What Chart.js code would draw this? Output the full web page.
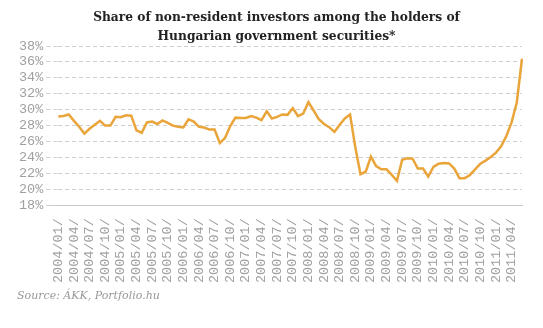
<!DOCTYPE html>
<html>
<head>
<meta charset="utf-8">
<script src="https://cdn.jsdelivr.net/npm/chart.js@4.4.0/dist/chart.umd.min.js"></script>
<style>
    body { margin: 0; background: #fff; }
    #wrap { position: relative; width: 543px; height: 328px; }
    #titulo {
        position: absolute; top: 7px; left: 10px; width: 533px;
        text-align: center; color: #222;
        font: bold 13.6px/19px "DejaVu Serif Condensed", "DejaVu Serif", serif;
    }
    #fuente {
        position: absolute; left: 17px; top: 289px; color: #999;
        font: italic 11px "DejaVu Serif", serif;
    }
</style>
</head>
<body>
<div id="wrap">
    <canvas id="shareChart"></canvas>
    <div id="titulo">Share of non-resident investors among the holders of<br>Hungarian government securities*</div>
    <div id="fuente">Source: ÁKK, Portfolio.hu</div>
</div>
<script>
// Datos mensuales (2004/01 - 2011/06)
const months = [
    '2004/01','2004/02','2004/03','2004/04','2004/05','2004/06','2004/07','2004/08','2004/09','2004/10','2004/11','2004/12',
    '2005/01','2005/02','2005/03','2005/04','2005/05','2005/06','2005/07','2005/08','2005/09','2005/10','2005/11','2005/12',
    '2006/01','2006/02','2006/03','2006/04','2006/05','2006/06','2006/07','2006/08','2006/09','2006/10','2006/11','2006/12',
    '2007/01','2007/02','2007/03','2007/04','2007/05','2007/06','2007/07','2007/08','2007/09','2007/10','2007/11','2007/12',
    '2008/01','2008/02','2008/03','2008/04','2008/05','2008/06','2008/07','2008/08','2008/09','2008/10','2008/11','2008/12',
    '2009/01','2009/02','2009/03','2009/04','2009/05','2009/06','2009/07','2009/08','2009/09','2009/10','2009/11','2009/12',
    '2010/01','2010/02','2010/03','2010/04','2010/05','2010/06','2010/07','2010/08','2010/09','2010/10','2010/11','2010/12',
    '2011/01','2011/02','2011/03','2011/04','2011/05','2011/06'
];

const shareValues = [
    29.15, 29.2, 29.4, 28.6, 27.85, 27.0, 27.6, 28.1, 28.6, 28.0, 28.0, 29.1,
    29.05, 29.3, 29.25, 27.4, 27.1, 28.4, 28.5, 28.2, 28.65, 28.35, 28.0, 27.85,
    27.76, 28.8, 28.5, 27.85, 27.75, 27.5, 27.5, 25.8, 26.45, 27.95, 29.0, 28.95,
    28.95, 29.2, 29.0, 28.7, 29.8, 28.9, 29.1, 29.4, 29.35, 30.2, 29.2, 29.5,
    30.95, 29.9, 28.8, 28.2, 27.8, 27.2, 28.1, 28.9, 29.4, 25.3, 21.9, 22.2,
    24.1, 22.9, 22.5, 22.5, 21.8, 21.05, 23.7, 23.9, 23.85, 22.6, 22.6, 21.6,
    22.8, 23.2, 23.3, 23.25, 22.6, 21.4, 21.4, 21.8, 22.5, 23.2, 23.6, 24.05,
    24.6, 25.4, 26.7, 28.4, 30.9, 36.4
];

// Meses que llevan etiqueta en el eje X
const labelMonths = ['01', '04', '07', '10'];

// Eje Y
const yMin = 18;
const yMax = 38;
const yStep = 2;

const tickFont = { family: '"Liberation Mono", "DejaVu Sans Mono", monospace', size: 13.5 };

const ctx = document.getElementById('shareChart');
new Chart(ctx.getContext('2d'), {
    type: 'line',
    data: {
        labels: months,
        datasets: [{
            label: 'Share',
            data: shareValues,
            borderColor: '#e9a43a',
            borderWidth: 2.5,
            pointRadius: 0,
            tension: 0
        }]
    },
    options: {
        responsive: true,
        maintainAspectRatio: false,
        animation: false,
        layout: {
            padding: { top: 46, left: 16, right: 21, bottom: 32 }
        },
        plugins: {
            legend: { display: false },
            title: { display: false },
            tooltip: { enabled: false }
        },
        scales: {
            x: {
                grid: { display: false, drawTicks: false },
                border: { display: true, color: '#c8c8c8', width: 1 },
                ticks: {
                    autoSkip: false,
                    minRotation: 90,
                    maxRotation: 90,
                    padding: 13,
                    color: '#a0a0a0',
                    font: tickFont,
                    callback: function(value, index) {
                        const m = months[index];
                        return labelMonths.includes(m.slice(5)) ? m + '/' : null;
                    }
                }
            },
            y: {
                min: yMin,
                max: yMax,
                grid: {
                    color: '#cfcfcf',
                    tickLength: 12,
                    tickBorderDash: function(c) { return c.tick && c.tick.value === yMin ? [] : [4, 3]; }
                },
                border: { display: false, dash: [4, 3] },
                ticks: {
                    stepSize: yStep,
                    autoSkip: false,
                    padding: 3,
                    color: '#a0a0a0',
                    font: tickFont,
                    callback: function(value) { return value + '%'; }
                }
            }
        }
    }
});
</script>
</body>
</html>
